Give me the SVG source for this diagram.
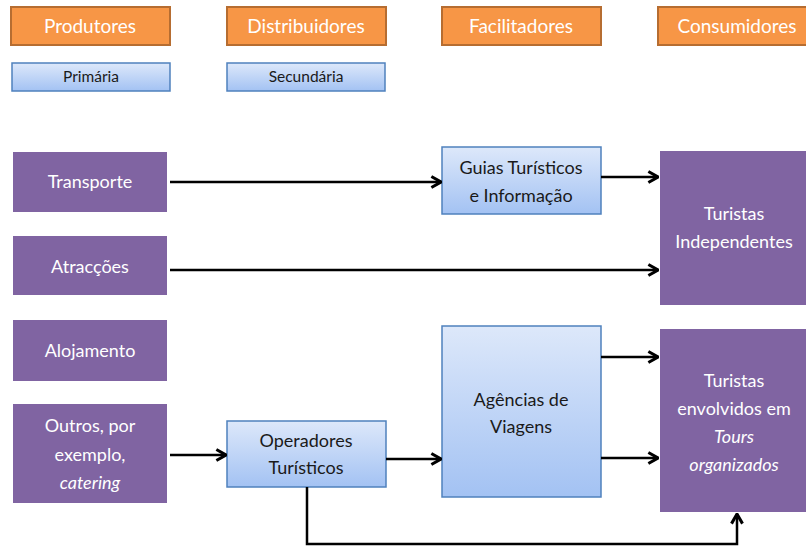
<svg xmlns="http://www.w3.org/2000/svg" width="806" height="546" viewBox="0 0 806 546">
<style>
.hdr{fill:#F79646;stroke:#B66D31;stroke-width:2}
.hdrt{fill:#fff;font-family:Lato,"Open Sans",sans-serif;font-size:19px;text-anchor:middle}
.blue{fill:url(#bg);stroke:#4F81BD;stroke-width:1.5}
.bt{fill:#1a1a1a;font-family:Lato,"Open Sans",sans-serif;font-size:18px;text-anchor:middle}
.bts{fill:#1a1a1a;font-family:Lato,"Open Sans",sans-serif;font-size:15.5px;text-anchor:middle}
.pur{fill:#8064A2}
.pt{fill:#fff;font-family:Lato,"Open Sans",sans-serif;font-size:18px;text-anchor:middle}
.it{font-style:italic}
.con{fill:none;stroke:#000;stroke-width:2.5}
</style>
<defs>
<linearGradient id="bg" x1="0" y1="0" x2="0" y2="1">
<stop offset="0" stop-color="#DDE8FA"/>
<stop offset="1" stop-color="#A3C2F3"/>
</linearGradient>
<marker id="ah" viewBox="0 0 10 10" refX="9" refY="5" markerWidth="5.5" markerHeight="5.5" markerUnits="strokeWidth" orient="auto">
<polyline points="2,1 9,5 2,9" fill="none" stroke="#000" stroke-width="2.2"/>
</marker>
</defs>

<g id="produtores"><rect class="hdr" x="11" y="7" width="159" height="38"/><text class="hdrt" x="90" y="33">Produtores</text></g>
<g id="distribuidores"><rect class="hdr" x="227" y="7" width="159" height="38"/><text class="hdrt" x="306" y="33">Distribuidores</text></g>
<g id="facilitadores"><rect class="hdr" x="442" y="7" width="159" height="38"/><text class="hdrt" x="521" y="33">Facilitadores</text></g>
<g id="consumidores"><rect class="hdr" x="658" y="7" width="159" height="38"/><text class="hdrt" x="737" y="33">Consumidores</text></g>

<g id="primaria"><rect class="blue" x="12" y="63" width="158" height="28"/><text class="bts" x="91" y="82">Primária</text></g>
<g id="secundaria"><rect class="blue" x="227" y="63" width="158" height="28"/><text class="bts" x="306" y="82">Secundária</text></g>

<g id="transporte"><rect class="pur" x="13" y="152" width="154" height="60"/><text class="pt" x="90" y="188">Transporte</text></g>
<g id="atraccoes"><rect class="pur" x="13" y="236" width="154" height="59"/><text class="pt" x="90" y="273">Atracções</text></g>
<g id="alojamento"><rect class="pur" x="13" y="320" width="154" height="61"/><text class="pt" x="90" y="357">Alojamento</text></g>
<g id="outros"><rect class="pur" x="13" y="404" width="154" height="99"/>
<text class="pt" x="90" y="432">Outros, por</text><text class="pt" x="90" y="461">exemplo,</text><text class="pt it" x="90" y="489">catering</text></g>

<g id="guias"><rect class="blue" x="442" y="147" width="159" height="67"/><text class="bt" x="521" y="174">Guias Turísticos</text><text class="bt" x="521" y="202">e Informação</text></g>
<g id="operadores"><rect class="blue" x="227" y="421" width="159" height="66"/><text class="bt" x="306" y="447">Operadores</text><text class="bt" x="306" y="474">Turísticos</text></g>
<g id="agencias"><rect class="blue" x="442" y="326" width="159" height="171"/><text class="bt" x="521" y="406">Agências de</text><text class="bt" x="521" y="433">Viagens</text></g>

<g id="independentes"><rect class="pur" x="660" y="151" width="146" height="154"/><text class="pt" x="734" y="220">Turistas</text><text class="pt" x="734" y="248">Independentes</text></g>
<g id="organizados"><rect class="pur" x="660" y="329" width="146" height="183"/>
<text class="pt" x="734" y="387">Turistas</text><text class="pt" x="734" y="415">envolvidos em</text><text class="pt it" x="734" y="443">Tours</text><text class="pt it" x="734" y="471">organizados</text></g>

<g id="connectors">
<line class="con" x1="170" y1="182" x2="441" y2="182" marker-end="url(#ah)"/>
<line class="con" x1="601" y1="177" x2="658" y2="177" marker-end="url(#ah)"/>
<line class="con" x1="170" y1="270" x2="658" y2="270" marker-end="url(#ah)"/>
<line class="con" x1="170" y1="455" x2="226" y2="455" marker-end="url(#ah)"/>
<line class="con" x1="386" y1="459" x2="441" y2="459" marker-end="url(#ah)"/>
<line class="con" x1="601" y1="357" x2="658" y2="357" marker-end="url(#ah)"/>
<line class="con" x1="601" y1="458" x2="658" y2="458" marker-end="url(#ah)"/>
<polyline class="con" points="307,487 307,544 737,544 737,514" marker-end="url(#ah)"/>
</g>
</svg>
